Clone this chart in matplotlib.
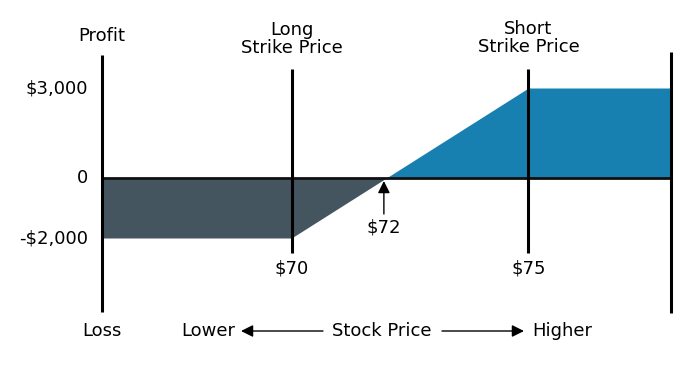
import matplotlib
matplotlib.use("Agg")
import matplotlib.pyplot as plt
import matplotlib.transforms as mtransforms
from matplotlib.patches import FancyArrowPatch
import numpy as np

# ---- data ----
prices = [66, 70, 75, 78]
profit = [-2000, -2000, 3000, 3000]
long_strike = 70
short_strike = 75
breakeven = 72
ytick_values = [3000, 0, -2000]
ytick_labels = ["$3,000", "0", "-$2,000"]
strike_labels = ["$70", "$75"]
breakeven_label = "$72"

GRAY = "#44555F"
BLUE = "#187FB1"
W, H = 700, 378
FS = 13
plt.rcParams["font.family"] = ["DejaVu Sans"]

fig = plt.figure(figsize=(W / 100, H / 100), dpi=100)
ax = fig.add_axes([102 / W, (H - 313) / H, 568.5 / W, 261 / H])
ax.set_xlim(66, 78)
ax.set_ylim(-4500, 4200)
ax.axis("off")

x = np.array(prices, dtype=float)
y = np.array(profit, dtype=float)
ax.fill_between(x, y, 0, where=y <= 0, interpolate=True, color=GRAY, lw=0)
ax.fill_between(x, y, 0, where=y >= 0, interpolate=True, color=BLUE, lw=0)

LW = 2.2
ax.plot([prices[0], prices[-1]], [0, 0], color="#111111", lw=2.0, solid_capstyle="butt")
ax.plot([prices[0], prices[0]], [-4450, 4100], color="black", lw=LW, solid_capstyle="butt", clip_on=False)
ax.plot([prices[-1], prices[-1]], [-4500, 4200], color="black", lw=LW, solid_capstyle="butt", clip_on=False)
for s in (long_strike, short_strike):
    ax.plot([s, s], [-2500, 3650], color="black", lw=LW, solid_capstyle="butt")

def fy(p):
    return 1 - p / H

def fx(p):
    return p / W

bt = mtransforms.blended_transform_factory(ax.transData, fig.transFigure)
bty = mtransforms.blended_transform_factory(fig.transFigure, ax.transData)

# y tick labels
for v, lab in zip(ytick_values, ytick_labels):
    ax.text(fx(88), v, lab, transform=bty, ha="right", va="center", fontsize=FS)

# headers
ax.text(prices[0], fy(36), "Profit", transform=bt, ha="center", va="center", fontsize=FS)
ax.text(long_strike, fy(39), "Long\nStrike Price", transform=bt, ha="center", va="center",
        fontsize=FS, linespacing=1.05)
ax.text(short_strike, fy(38), "Short\nStrike Price", transform=bt, ha="center", va="center",
        fontsize=FS, linespacing=1.05)

# strike labels
for s, lab in zip((long_strike, short_strike), strike_labels):
    ax.text(s, fy(268), lab, transform=bt, ha="center", va="center", fontsize=FS)

# breakeven
ax.text(breakeven - 0.05, fy(227), breakeven_label, transform=bt, ha="center", va="center", fontsize=FS)
ax.annotate("", xy=(breakeven - 0.05, fy(181)), xytext=(breakeven - 0.05, fy(214)),
            xycoords=bt, textcoords=bt,
            arrowprops=dict(arrowstyle="-|>,head_length=0.6,head_width=0.3", color="black", lw=1.0,
                            shrinkA=0, shrinkB=0, mutation_scale=12))

# bottom axis description
ax.text(prices[0], fy(331), "Loss", transform=bt, ha="center", va="center", fontsize=FS)
fig.text(fx(208), fy(331), "Lower", ha="center", va="center", fontsize=FS)
fig.text(fx(382), fy(331), "Stock Price", ha="center", va="center", fontsize=FS)
fig.text(fx(562), fy(331), "Higher", ha="center", va="center", fontsize=FS)
for a, b in (((323, 331), (241, 331)), ((442, 331), (524, 331))):
    fig.add_artist(FancyArrowPatch(
        (fx(a[0]), fy(a[1])), (fx(b[0]), fy(b[1])), transform=fig.transFigure,
        arrowstyle="-|>,head_length=0.6,head_width=0.3", color="black", lw=1.0,
        shrinkA=0, shrinkB=0, mutation_scale=12))

fig.savefig("out.png", dpi=100)
